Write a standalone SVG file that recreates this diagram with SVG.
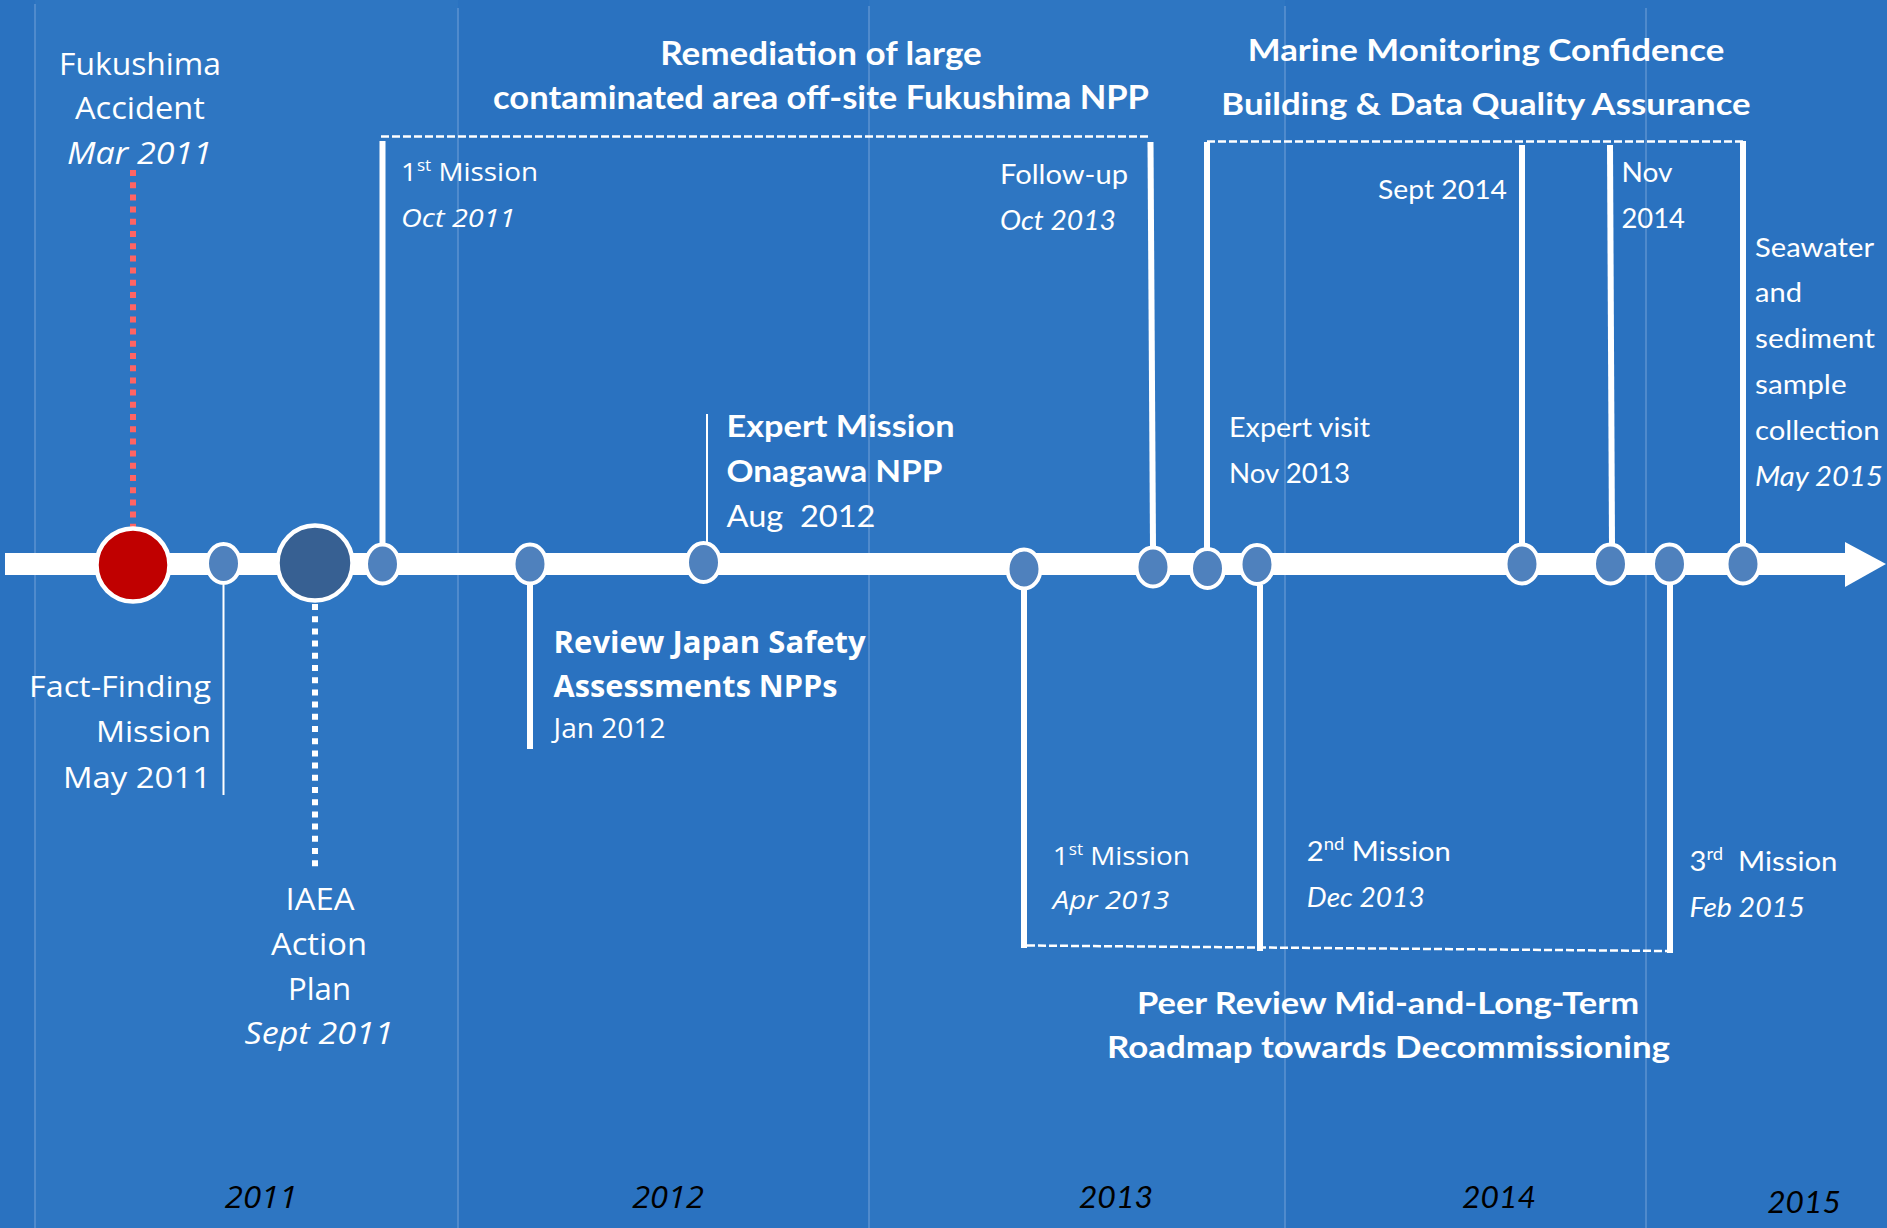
<svg xmlns="http://www.w3.org/2000/svg" width="1887" height="1228" viewBox="0 0 1887 1228">
  <style>
    .os { font-family: "Open Sans", "Noto Sans", sans-serif; fill: #ffffff; }
    .lt { font-family: Lato, "Open Sans", sans-serif; fill: #ffffff; }
    .b { font-weight: 700; }
    .i { font-style: italic; }
    .yr { fill: #000000; font-style: italic; }
    .sep { stroke: #5D93D0; stroke-width: 1.5; }
    .stem { stroke: #ffffff; stroke-width: 6; fill: none; }
    .thin { stroke: #ffffff; stroke-width: 2; fill: none; }
    .dash { stroke: #ffffff; stroke-width: 2.5; stroke-dasharray: 8 3; fill: none; }
    .dot { stroke-width: 6; stroke-dasharray: 6 6.2; fill: none; }
    .pt { fill: #4F81BD; stroke: #ffffff; stroke-width: 4; }
  </style>

  <!-- year columns -->
  <g id="background">
    <rect x="0" y="0" width="1887" height="1228" fill="#2A72C0"/>
    <rect x="35" y="0" width="423" height="1228" fill="#2E76C2"/>
    <rect x="869" y="0" width="416" height="1228" fill="#2E76C2"/>
    <line class="sep" x1="35" y1="4" x2="35" y2="1228"/>
    <line class="sep" x1="458" y1="8" x2="458" y2="1228"/>
    <line class="sep" x1="869" y1="6" x2="869" y2="1228"/>
    <line class="sep" x1="1285" y1="6" x2="1285" y2="1228"/>
    <line class="sep" x1="1646" y1="8" x2="1646" y2="1228"/>
  </g>

  <!-- stems and brackets linking events to the time axis -->
  <g id="connectors">
    <line class="dot" stroke="#FF6464" x1="133" y1="170" x2="133" y2="527"/>
    <line class="thin" x1="223.5" y1="585" x2="223.5" y2="795"/>
    <line class="dot" stroke="#ffffff" stroke-width="5" x1="315" y1="604" x2="315" y2="871"/>
    <line class="stem" x1="382.5" y1="141" x2="382.5" y2="545"/>
    <line class="dash" x1="381" y1="136.5" x2="1149" y2="136.5"/>
    <line class="stem" x1="1150.5" y1="142" x2="1153" y2="548"/>
    <line class="stem" stroke-width="4" x1="530" y1="583" x2="530" y2="749"/>
    <line class="thin" x1="707" y1="414" x2="707" y2="545"/>
    <line class="dash" x1="1207" y1="141.5" x2="1743" y2="141.5"/>
    <line class="stem" x1="1207" y1="142" x2="1207" y2="548"/>
    <line class="stem" x1="1522" y1="145" x2="1522" y2="545"/>
    <line class="stem" x1="1610" y1="145" x2="1612" y2="545"/>
    <line class="stem" x1="1743" y1="141" x2="1743" y2="545"/>
    <line class="stem" x1="1024" y1="589" x2="1024" y2="948"/>
    <line class="stem" x1="1260" y1="585" x2="1260" y2="951"/>
    <line class="stem" x1="1670" y1="585" x2="1670" y2="953"/>
    <line class="dash" x1="1027" y1="945.5" x2="1668" y2="951"/>
  </g>

  <!-- time axis -->
  <g id="axis">
    <rect x="5" y="553" width="1842" height="22" fill="#ffffff"/>
    <polygon points="1845,542 1886,564 1845,587" fill="#ffffff"/>
  </g>

  <g id="accident">
    <circle cx="133" cy="565" r="36.5" fill="#C00000" stroke="#ffffff" stroke-width="4.5"/>
    <text class="os" font-size="31" text-anchor="middle" x="140" y="75" textLength="162" lengthAdjust="spacingAndGlyphs">Fukushima</text>
    <text class="os" font-size="31" text-anchor="middle" x="140" y="119" textLength="130" lengthAdjust="spacingAndGlyphs">Accident</text>
    <text class="os i" font-size="31" text-anchor="middle" x="139.5" y="164" textLength="145" lengthAdjust="spacingAndGlyphs">Mar 2011</text>
  </g>

  <g id="fact-finding">
    <ellipse class="pt" cx="223.5" cy="563.5" rx="16.5" ry="19.5"/>
    <text class="os" font-size="30" text-anchor="end" x="211" y="697" textLength="182" lengthAdjust="spacingAndGlyphs">Fact-Finding</text>
    <text class="os" font-size="30" text-anchor="end" x="211" y="742" textLength="115" lengthAdjust="spacingAndGlyphs">Mission</text>
    <text class="os" font-size="30" text-anchor="end" x="211" y="788" textLength="148" lengthAdjust="spacingAndGlyphs">May 2011</text>
  </g>

  <g id="action-plan">
    <circle cx="315" cy="563" r="37.5" fill="#376092" stroke="#ffffff" stroke-width="4.5"/>
    <text class="os" font-size="31" text-anchor="middle" x="320" y="909.5" textLength="69" lengthAdjust="spacingAndGlyphs">IAEA</text>
    <text class="os" font-size="31" text-anchor="middle" x="319" y="955" textLength="96" lengthAdjust="spacingAndGlyphs">Action</text>
    <text class="os" font-size="31" text-anchor="middle" x="319.5" y="1000" textLength="63" lengthAdjust="spacingAndGlyphs">Plan</text>
    <text class="os i" font-size="31" text-anchor="middle" x="319" y="1044" textLength="149" lengthAdjust="spacingAndGlyphs">Sept 2011</text>
  </g>

  <g id="remediation-1">
    <ellipse class="pt" cx="382.5" cy="564" rx="16.5" ry="19.5"/>
    <text class="os" font-size="26" x="401" y="180.6" textLength="137" lengthAdjust="spacingAndGlyphs">1<tspan font-size="16" dy="-10">st</tspan><tspan dy="10"> Mission</tspan></text>
    <text class="os i" font-size="26" x="401" y="226.6" textLength="114.5" lengthAdjust="spacingAndGlyphs">Oct 2011</text>
  </g>

  <g id="remediation-title">
    <text class="lt b" font-size="32" text-anchor="middle" x="821" y="65" textLength="321.5" lengthAdjust="spacingAndGlyphs">Remediation of large</text>
    <text class="lt b" font-size="32" text-anchor="middle" x="821" y="109" textLength="656" lengthAdjust="spacingAndGlyphs">contaminated area off-site Fukushima NPP</text>
  </g>

  <g id="safety-review">
    <ellipse class="pt" cx="530" cy="564" rx="16.5" ry="19.5"/>
    <text class="os b" font-size="30" x="553.6" y="653" textLength="312" lengthAdjust="spacingAndGlyphs">Review Japan Safety</text>
    <text class="os b" font-size="30" x="553.6" y="697" textLength="284" lengthAdjust="spacingAndGlyphs">Assessments NPPs</text>
    <text class="os" font-size="26.5" x="553.6" y="737.7" textLength="112" lengthAdjust="spacingAndGlyphs">Jan 2012</text>
  </g>

  <g id="onagawa">
    <ellipse class="pt" cx="703.5" cy="562.5" rx="16.5" ry="19.5"/>
    <text class="lt b" font-size="31" x="726.5" y="437.4" textLength="228" lengthAdjust="spacingAndGlyphs">Expert Mission</text>
    <text class="lt b" font-size="31" x="726.5" y="482" textLength="216" lengthAdjust="spacingAndGlyphs">Onagawa NPP</text>
    <text class="lt" font-size="31" x="726.5" y="527.4" textLength="149" lengthAdjust="spacingAndGlyphs" xml:space="preserve">Aug  2012</text>
  </g>

  <g id="roadmap-1">
    <ellipse class="pt" cx="1024" cy="569" rx="16.5" ry="19.5"/>
    <text class="os" font-size="26" x="1052.8" y="865" textLength="137" lengthAdjust="spacingAndGlyphs">1<tspan font-size="16" dy="-10">st</tspan><tspan dy="10"> Mission</tspan></text>
    <text class="os i" font-size="26" x="1052.8" y="908.5" textLength="116.6" lengthAdjust="spacingAndGlyphs">Apr 2013</text>
  </g>

  <g id="remediation-followup">
    <ellipse class="pt" cx="1153" cy="567" rx="16.5" ry="19.5"/>
    <text class="lt" font-size="27" x="1000" y="183.5" textLength="128" lengthAdjust="spacingAndGlyphs">Follow-up</text>
    <text class="lt i" font-size="27" x="1000" y="229.6" textLength="116" lengthAdjust="spacingAndGlyphs">Oct 2013</text>
  </g>

  <g id="marine-visit">
    <ellipse class="pt" cx="1207.5" cy="568.5" rx="16.5" ry="19.5"/>
    <text class="lt" font-size="26" x="1229" y="437" textLength="141" lengthAdjust="spacingAndGlyphs">Expert visit</text>
    <text class="lt" font-size="26" x="1229" y="483" textLength="121" lengthAdjust="spacingAndGlyphs">Nov 2013</text>
  </g>

  <g id="roadmap-2">
    <ellipse class="pt" cx="1257" cy="564.5" rx="16.5" ry="19.5"/>
    <text class="lt" font-size="27" x="1306.8" y="861" textLength="144" lengthAdjust="spacingAndGlyphs">2<tspan font-size="17" dy="-11">nd</tspan><tspan dy="11"> Mission</tspan></text>
    <text class="lt i" font-size="27" x="1306.8" y="907" textLength="118" lengthAdjust="spacingAndGlyphs">Dec 2013</text>
  </g>

  <g id="marine-title">
    <text class="lt b" font-size="31" text-anchor="middle" x="1486" y="61.2" textLength="476.6" lengthAdjust="spacingAndGlyphs">Marine Monitoring Confidence</text>
    <text class="lt b" font-size="31" text-anchor="middle" x="1486" y="114.8" textLength="529.3" lengthAdjust="spacingAndGlyphs">Building &amp; Data Quality Assurance</text>
  </g>

  <g id="marine-sept">
    <ellipse class="pt" cx="1522" cy="564" rx="16.5" ry="19.5"/>
    <text class="lt" font-size="26.5" x="1378" y="199" textLength="129" lengthAdjust="spacingAndGlyphs">Sept 2014</text>
  </g>

  <g id="marine-nov">
    <ellipse class="pt" cx="1610.5" cy="564" rx="16.5" ry="19.5"/>
    <text class="lt" font-size="26" x="1621.5" y="181.8" textLength="51" lengthAdjust="spacingAndGlyphs">Nov</text>
    <text class="lt" font-size="26" x="1621.5" y="227.7" textLength="63.5" lengthAdjust="spacingAndGlyphs">2014</text>
  </g>

  <g id="roadmap-3">
    <ellipse class="pt" cx="1669.5" cy="564" rx="16.5" ry="19.5"/>
    <text class="lt" font-size="27" x="1689.4" y="871.4" textLength="148" lengthAdjust="spacingAndGlyphs" xml:space="preserve">3<tspan font-size="17" dy="-11">rd</tspan><tspan dy="11">  Mission</tspan></text>
    <text class="lt i" font-size="27" x="1689.4" y="917" textLength="115.4" lengthAdjust="spacingAndGlyphs">Feb 2015</text>
  </g>

  <g id="marine-may">
    <ellipse class="pt" cx="1743" cy="564" rx="16.5" ry="19.5"/>
    <text class="lt" font-size="26.5" x="1755" y="257" textLength="119" lengthAdjust="spacingAndGlyphs">Seawater</text>
    <text class="lt" font-size="26.5" x="1755" y="302.3" textLength="47" lengthAdjust="spacingAndGlyphs">and</text>
    <text class="lt" font-size="26.5" x="1755" y="348.3" textLength="120" lengthAdjust="spacingAndGlyphs">sediment</text>
    <text class="lt" font-size="26.5" x="1755" y="394.2" textLength="91.6" lengthAdjust="spacingAndGlyphs">sample</text>
    <text class="lt" font-size="26.5" x="1755" y="440" textLength="124.5" lengthAdjust="spacingAndGlyphs">collection</text>
    <text class="lt i" font-size="26.5" x="1755" y="486" textLength="128" lengthAdjust="spacingAndGlyphs">May 2015</text>
  </g>

  <g id="roadmap-title">
    <text class="lt b" font-size="29.5" text-anchor="middle" x="1388" y="1014.4" textLength="502" lengthAdjust="spacingAndGlyphs">Peer Review Mid-and-Long-Term</text>
    <text class="lt b" font-size="29.5" text-anchor="middle" x="1388.5" y="1058" textLength="563" lengthAdjust="spacingAndGlyphs">Roadmap towards Decommissioning</text>
  </g>

  <!-- year captions -->
  <g id="years">
    <text class="os yr" font-size="31" text-anchor="middle" x="261" y="1208" textLength="72.5" lengthAdjust="spacingAndGlyphs">2011</text>
    <text class="os yr" font-size="31" text-anchor="middle" x="668" y="1208" textLength="71.6" lengthAdjust="spacingAndGlyphs">2012</text>
    <text class="lt yr" font-size="31" text-anchor="middle" x="1116" y="1208" textLength="74.5" lengthAdjust="spacingAndGlyphs">2013</text>
    <text class="lt yr" font-size="31" text-anchor="middle" x="1499" y="1208" textLength="74" lengthAdjust="spacingAndGlyphs">2014</text>
    <text class="lt yr" font-size="31" text-anchor="middle" x="1804" y="1212.6" textLength="73.6" lengthAdjust="spacingAndGlyphs">2015</text>
  </g>
</svg>
